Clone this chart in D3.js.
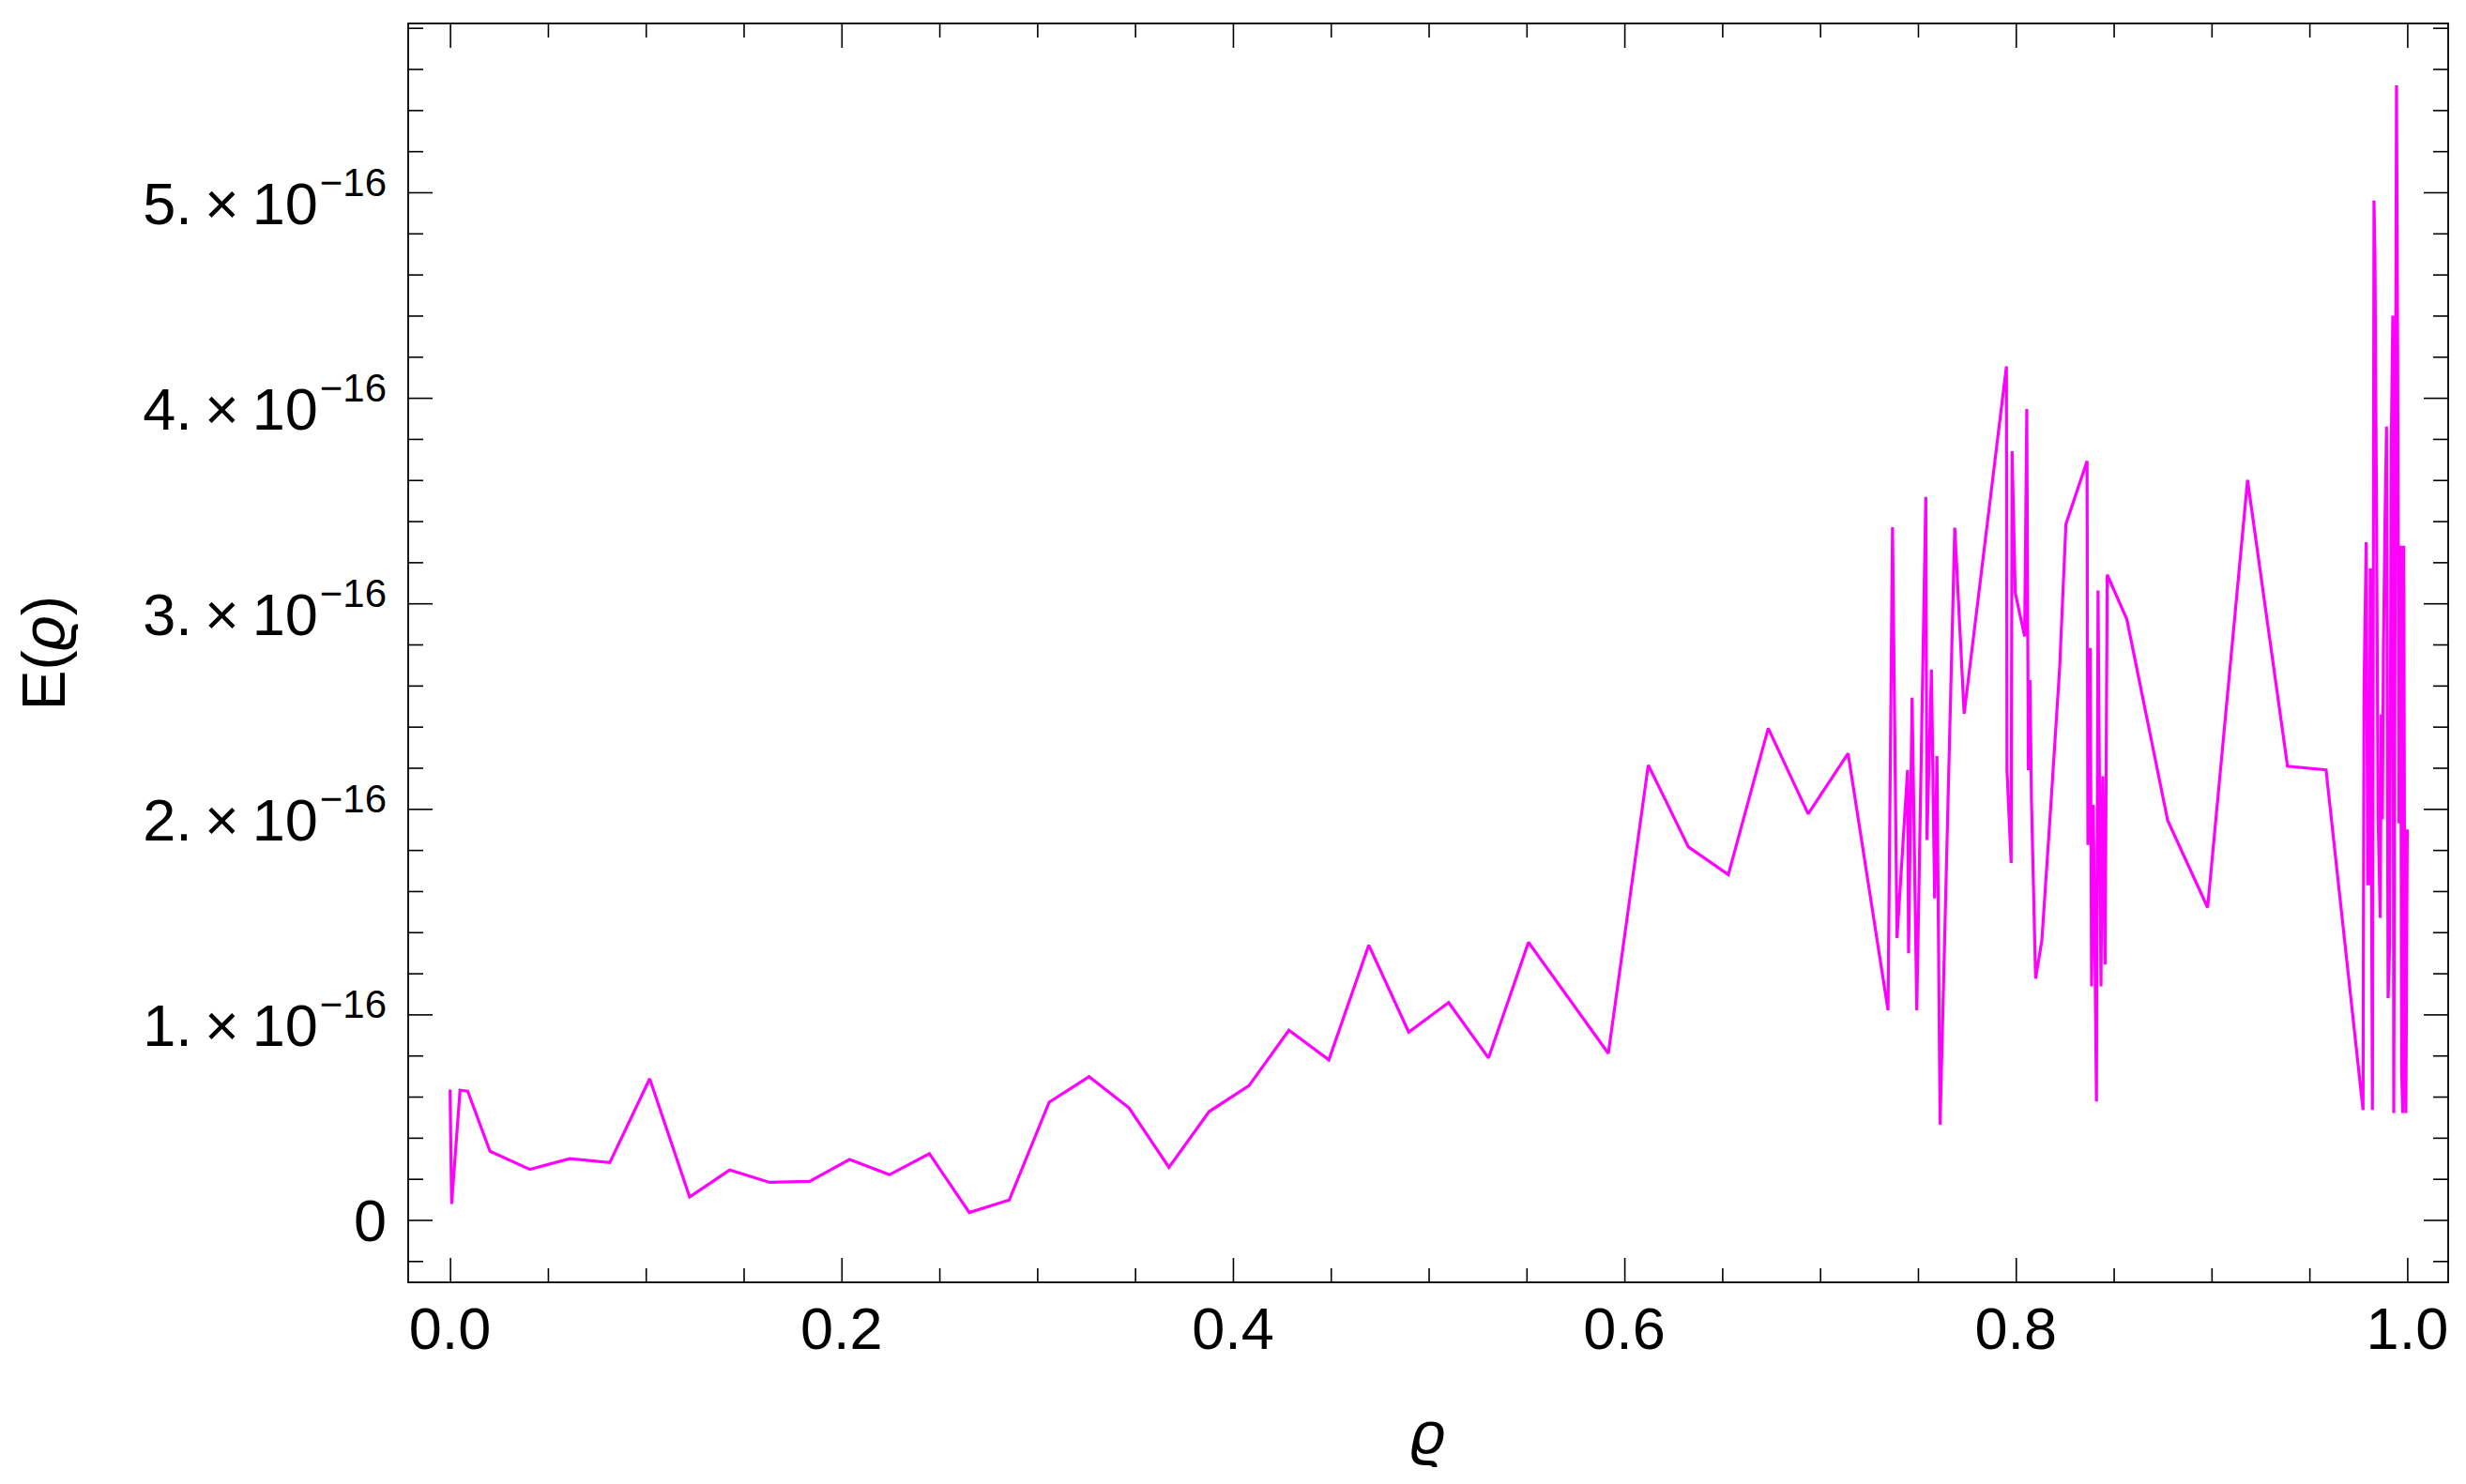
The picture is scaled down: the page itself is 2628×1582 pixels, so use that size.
<!DOCTYPE html>
<html>
<head>
<meta charset="utf-8">
<script src="https://cdn.jsdelivr.net/npm/d3@7"></script>
<style>
  html, body { margin: 0; padding: 0; background: #ffffff; }
  svg { display: block; }
  text { font-family: "Liberation Sans", Arial, "DejaVu Sans", sans-serif; fill: #000; }
</style>
</head>
<body>
<svg id="chart" width="2628" height="1582"></svg>
<script>
// ---------------- data ----------------
const rho = [
  0.0000, 0.0008, 0.0051, 0.0090, 0.0204, 0.0408, 0.0612, 0.0816, 0.1020, 0.1224,
  0.1429, 0.1633, 0.1837, 0.2041, 0.2245, 0.2449, 0.2653, 0.2857, 0.3061, 0.3265,
  0.3469, 0.3673, 0.3878, 0.4082, 0.4286, 0.4490, 0.4694, 0.4898, 0.5102, 0.5306,
  0.5510, 0.5918, 0.6122, 0.6327, 0.6531, 0.6735, 0.6939, 0.7143, 0.7347,
  0.7370, 0.7393, 0.7447, 0.7452, 0.7470, 0.7494, 0.7540, 0.7546, 0.7569, 0.7585,
  0.7597, 0.7613, 0.7688, 0.7736, 0.7952, 0.7955, 0.7976, 0.7981, 0.7997, 0.8045,
  0.8056, 0.8064, 0.8072, 0.8080, 0.8101, 0.8133, 0.8176, 0.8224, 0.8256, 0.8364,
  0.8368, 0.8380, 0.8387, 0.8396, 0.8412, 0.8420, 0.8435, 0.8444, 0.8456, 0.8467,
  0.8567, 0.8776, 0.8980, 0.9184, 0.9388, 0.9585, 0.9774,
  0.9779, 0.9790, 0.9798, 0.9806, 0.9811, 0.9822, 0.9830, 0.9835, 0.9843, 0.9851,
  0.9862, 0.9867, 0.9873, 0.9878, 0.9886, 0.9894, 0.9902, 0.9910, 0.9918, 0.9926,
  0.9931, 0.9945, 0.9951, 0.9958, 0.9966, 0.9971, 0.9977, 0.9982, 0.9987, 0.9993,
  1.0000
];
// E(rho) in units of 1e-16
const energyE16 = [
  0.634, 0.078, 0.631, 0.627, 0.334, 0.246, 0.298, 0.279, 0.687, 0.112,
  0.243, 0.183, 0.188, 0.294, 0.220, 0.322, 0.036, 0.097, 0.573, 0.697,
  0.545, 0.256, 0.527, 0.653, 0.923, 0.779, 1.337, 0.914, 1.058, 0.788,
  1.351, 0.810, 2.213, 1.815, 1.680, 2.392, 1.976, 2.270, 1.020,
  3.370, 1.372, 2.189, 1.297, 2.541, 1.020, 3.518, 1.849, 2.678, 1.565,
  2.257, 0.464, 3.368, 2.463, 4.153, 2.188, 1.737, 3.740, 3.052, 2.839,
  3.946, 2.188, 2.626, 2.038, 1.174, 1.360, 1.975, 2.686, 3.386, 3.692,
  1.825, 2.783, 1.136, 2.019, 0.576, 3.063, 1.136, 2.159, 1.243, 3.139,
  2.923, 1.943, 1.520, 3.600, 2.208, 2.190, 0.535,
  2.580, 3.297, 1.636, 1.636, 3.170, 0.535, 4.960, 4.680, 3.420, 1.950,
  1.470, 2.460, 1.950, 2.760, 3.390, 3.860, 1.080, 1.330, 3.750, 4.400,
  0.520, 5.520, 4.210, 1.930, 3.280, 0.730, 0.520, 3.280, 1.370, 0.520,
  1.900
];

const xTickValues = [0, 0.2, 0.4, 0.6, 0.8, 1.0];
const xTickLabels = ["0.0", "0.2", "0.4", "0.6", "0.8", "1.0"];
const yTickValues = [0, 1e-16, 2e-16, 3e-16, 4e-16, 5e-16];
const yTickMantissas = ["0", "1.", "2.", "3.", "4.", "5."];
const yTickExponent = "\u221216";
const xMinorStep = 0.05;
const yMinorStep = 0.2e-16;

const xTitle = "\u03F1";
const yTitle = "E(\u03F1)";

// ---------------- layout ----------------
const frame = { left: 435, right: 2609, top: 25, bottom: 1367 };
const lineColor = "#ff00ff";

const svg = d3.select("#chart");

const x = d3.scaleLinear().domain([-0.0214, 1.0209]).range([frame.left, frame.right]);
const y = d3.scaleLinear().domain([-0.3035e-16, 5.8215e-16]).range([frame.bottom, frame.top]);

// ---------------- data line ----------------
const data = rho.map((r, i) => ({ r: r, e: energyE16[i] * 1e-16 }));
const line = d3.line().x(d => x(d.r)).y(d => y(d.e));

svg.append("path")
  .datum(data)
  .attr("d", line)
  .attr("fill", "none")
  .attr("stroke", lineColor)
  .attr("stroke-width", 3.2)
  .attr("stroke-linejoin", "miter")
  .attr("stroke-miterlimit", 2);

// ---------------- ticks via d3 axes ----------------
const xMinor = d3.range(0, 1.0001, xMinorStep).filter(v => !xTickValues.some(t => Math.abs(t - v) < 1e-9));
const yMinor = d3.range(-0.2e-16, 5.81e-16, yMinorStep).filter(v => !yTickValues.some(t => Math.abs(t - v) < 1e-20));

function tickAxis(axisFn, scale, values, len, tx, ty) {
  const g = svg.append("g").attr("transform", `translate(${tx},${ty})`)
    .call(axisFn(scale).tickValues(values).tickSize(-len).tickFormat(""));
  g.select(".domain").remove();
  g.selectAll(".tick line").attr("stroke", "#000").attr("stroke-width", 1.6);
  return g;
}
// bottom & top
tickAxis(d3.axisBottom, x, xTickValues, 26, 0, frame.bottom);
tickAxis(d3.axisBottom, x, xMinor, 15, 0, frame.bottom);
tickAxis(d3.axisTop, x, xTickValues, 26, 0, frame.top);
tickAxis(d3.axisTop, x, xMinor, 15, 0, frame.top);
// left & right
tickAxis(d3.axisLeft, y, yTickValues, 26, frame.left, 0);
tickAxis(d3.axisLeft, y, yMinor, 16, frame.left, 0);
tickAxis(d3.axisRight, y, yTickValues, 26, frame.right, 0);
tickAxis(d3.axisRight, y, yMinor, 16, frame.right, 0);

// frame
svg.append("rect")
  .attr("x", frame.left).attr("y", frame.top)
  .attr("width", frame.right - frame.left).attr("height", frame.bottom - frame.top)
  .attr("fill", "none").attr("stroke", "#000").attr("stroke-width", 1.8);

// ---------------- tick labels ----------------
const fontSize = 63;
svg.append("g").selectAll("text")
  .data(xTickValues)
  .join("text")
  .attr("x", d => x(d))
  .attr("y", 1438)
  .attr("text-anchor", "middle")
  .attr("font-size", fontSize)
  .text((d, i) => xTickLabels[i]);

const yl = svg.append("g");
yTickValues.forEach((v, i) => {
  const t = yl.append("text")
    .attr("x", 412)
    .attr("text-anchor", "end")
    .attr("font-size", fontSize);
  if (v === 0) {
    t.attr("y", y(v) + 22).text(yTickMantissas[i]);
  } else {
    t.attr("y", y(v) + 34);
    t.append("tspan").text(yTickMantissas[i]);
    t.append("tspan").attr("dx", 13).text("\u00D7");
    t.append("tspan").attr("dx", 14).text("10");
    t.append("tspan").attr("dx", 2).attr("dy", -30).attr("font-size", 42).text(yTickExponent);
  }
});

// ---------------- axis titles ----------------
svg.append("text")
  .attr("x", (frame.left + frame.right) / 2)
  .attr("y", 1550)
  .attr("text-anchor", "middle")
  .attr("font-size", 64)
  .attr("font-style", "italic")
  .text(xTitle);

const yt = svg.append("text")
  .attr("transform", `translate(69, ${(frame.top + frame.bottom) / 2}) rotate(-90)`)
  .attr("text-anchor", "middle")
  .attr("font-size", 64);
yt.append("tspan").text("E(");
yt.append("tspan").attr("font-style", "italic").text("\u03F1");
yt.append("tspan").text(")");
</script>
</body>
</html>
